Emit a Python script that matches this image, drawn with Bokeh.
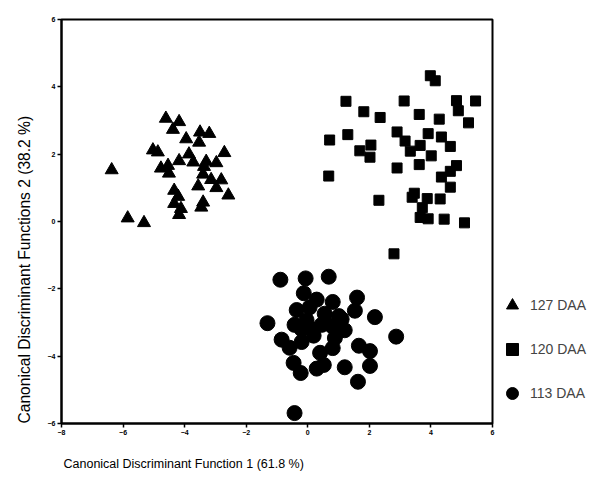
from bokeh.plotting import figure
from bokeh.models import Range1d, FixedTicker, Legend, LegendItem, Title
from bokeh.embed import file_html
from bokeh.resources import INLINE

x_ticks = [-8, -6, -4, -2, 0, 2, 4, 6]
y_ticks = [-6, -4, -2, 0, 2, 4, 6]

labels = ["127 DAA", "120 DAA", "113 DAA"]

# 127 DAA (triangles)
tri_x = [-4.61, -4.18, -4.38, -3.95, -3.50, -3.20, -3.53, -5.03, -4.87, -3.86,
         -2.71, -4.54, -4.18, -3.72, -3.30, -2.97, -4.51, -3.37, -3.40, -3.56,
         -3.14, -2.81, -2.97, -2.58, -4.34, -4.21, -4.34, -4.12, -3.40, -3.46,
         -4.18, -5.32, -4.77, -6.37, -5.85]
tri_y = [3.06, 2.96, 2.73, 2.45, 2.65, 2.61, 2.35, 2.12, 2.06, 2.00,
         2.04, 1.66, 1.80, 1.76, 1.78, 1.74, 1.43, 1.63, 1.40, 1.05,
         1.24, 1.23, 1.00, 0.78, 0.92, 0.74, 0.53, 0.38, 0.57, 0.42,
         0.20, -0.04, 1.58, 1.53, 0.10]

# 120 DAA (squares)
sq_x = [3.98, 4.14, 1.24, 3.13, 4.83, 5.45, 4.89, 1.82, 2.35, 3.62,
        4.27, 5.22, 2.90, 3.91, 4.34, 1.30, 0.71, 3.16, 3.65, 4.63,
        2.05, 1.69, 3.33, 2.02, 4.01, 3.62, 2.90, 4.83, 4.63, 4.34,
        0.68, 4.63, 3.46, 3.39, 3.88, 4.30, 2.31, 3.72, 3.65, 3.91,
        4.43, 5.09, 2.80]
sq_y = [4.33, 4.18, 3.57, 3.58, 3.59, 3.58, 3.29, 3.26, 3.09, 3.18,
        3.04, 2.93, 2.66, 2.61, 2.51, 2.58, 2.42, 2.39, 2.26, 2.23,
        2.27, 2.10, 2.09, 1.91, 1.95, 1.69, 1.59, 1.66, 1.49, 1.32,
        1.35, 1.02, 0.84, 0.72, 0.68, 0.67, 0.63, 0.41, 0.12, 0.08,
        0.07, -0.04, -0.96]

# 113 DAA (circles)
ci_x = [-0.89, -0.07, 0.68, -0.13, 0.29, 0.81, 1.60, 1.53, 2.18, -0.36,
        0.06, 0.55, 1.01, -1.31, -0.43, -0.04, 0.45, 0.78, 1.20, 2.87,
        -0.85, -0.59, -0.20, 0.19, 0.88, 0.81, 1.66, 2.02, 2.02, -0.46,
        -0.23, 0.29, 0.52, 1.20, 1.63, -0.43, 0.13, 0.40, -0.20, 1.10]
ci_y = [-1.73, -1.69, -1.64, -2.13, -2.32, -2.39, -2.26, -2.65, -2.84, -2.63,
        -2.55, -2.74, -2.81, -3.02, -3.07, -2.93, -3.07, -3.10, -3.23, -3.42,
        -3.51, -3.75, -3.58, -3.39, -3.46, -3.76, -3.69, -3.85, -4.29, -4.20,
        -4.50, -4.37, -4.26, -4.33, -4.76, -5.69, -3.20, -3.90, -3.20, -2.90]

FONT = "Liberation Sans"

p = figure(frame_width=431, frame_height=404,
           min_border_left=61, min_border_right=95,
           min_border_top=19, min_border_bottom=40,
           x_range=Range1d(-8, 6), y_range=Range1d(-6, 6),
           output_backend="svg", toolbar_location=None,
           background_fill_color="white", border_fill_color="white")

p.grid.visible = False
p.outline_line_color = "black"
p.outline_line_width = 2

for ax in (p.xaxis, p.yaxis):
    ax.axis_line_width = 2
    ax.axis_line_color = "black"
    ax.major_tick_line_color = "black"
    ax.major_tick_line_width = 1.5
    ax.major_tick_out = 4
    ax.major_tick_in = 0
    ax.minor_tick_line_color = None
    ax.major_label_text_font = FONT
    ax.major_label_text_font_size = "7px"
    ax.major_label_text_font_style = "bold"
    ax.major_label_text_color = "black"
    ax.major_label_standoff = 2

p.xaxis.ticker = FixedTicker(ticks=x_ticks)
p.yaxis.ticker = FixedTicker(ticks=y_ticks)

r_tri = p.scatter(tri_x, tri_y, marker="triangle", size=13, color="black")
r_sq = p.scatter(sq_x, sq_y, marker="square", size=10, color="black")
r_ci = p.scatter(ci_x, ci_y, marker="circle", size=15, color="black")

legend = Legend(items=[LegendItem(label=labels[0], renderers=[r_tri]),
                       LegendItem(label=labels[1], renderers=[r_sq]),
                       LegendItem(label=labels[2], renderers=[r_ci])],
                location=(5, 15), margin=0, padding=10, spacing=14,
                glyph_width=30, glyph_height=30, label_height=30,
                label_standoff=3, border_line_color=None,
                background_fill_alpha=0,
                label_text_font=FONT, label_text_font_size="14px")
p.add_layout(legend, "right")

xt = Title(text="Canonical Discriminant Function 1 (61.8 %)", align="left",
           offset=2, standoff=34, text_font=FONT, text_font_size="12.5px",
           text_font_style="normal", text_color="black")
p.add_layout(xt, "below")

yt = Title(text="Canonical Discriminant Functions 2 (38.2 %)", align="left",
           offset=0, standoff=24, text_font=FONT, text_font_size="15.6px",
           text_font_style="normal", text_color="black")
p.add_layout(yt, "left")

open("out.html", "w").write(file_html(p, INLINE))
